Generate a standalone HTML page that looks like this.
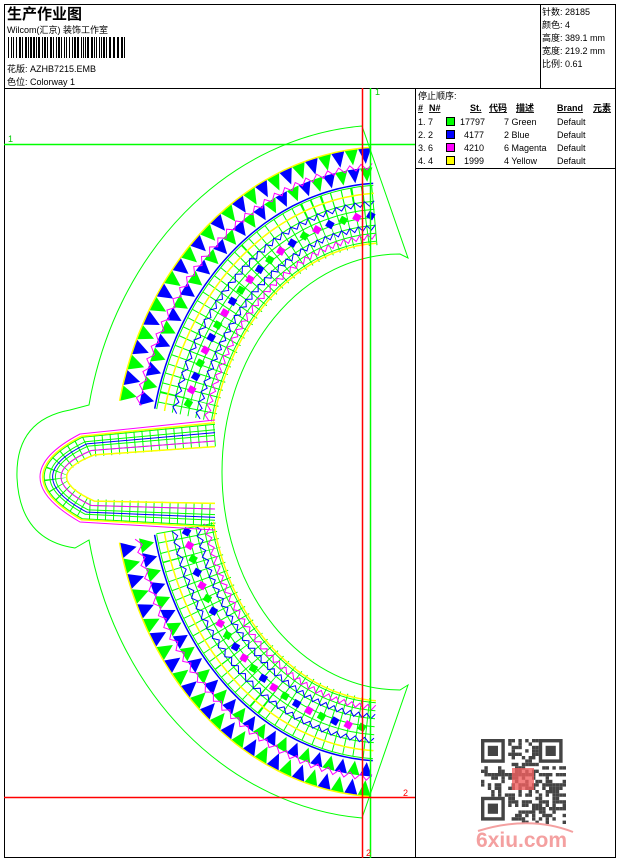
<!DOCTYPE html>
<html><head><meta charset="utf-8">
<style>
body{margin:0;background:#fff;width:620px;height:860px;overflow:hidden;font-family:"Liberation Sans","Noto Sans CJK SC",sans-serif;}
svg{position:absolute;left:0;top:0}
text{font-family:"Liberation Sans","Noto Sans CJK SC",sans-serif;}
</style></head><body>
<svg id="s" width="620" height="860" viewBox="0 0 620 860" xmlns="http://www.w3.org/2000/svg">
<rect x="4.5" y="4.5" width="611" height="853" fill="none" stroke="#000"/>
<line x1="4" y1="88.5" x2="616" y2="88.5" stroke="#000"/>
<line x1="540.5" y1="4" x2="540.5" y2="88" stroke="#000"/>
<line x1="415.5" y1="88" x2="415.5" y2="858" stroke="#000"/>
<line x1="415" y1="168.5" x2="616" y2="168.5" stroke="#000"/>
<text x="7" y="19" font-size="15" font-weight="bold">生产作业图</text>
<text x="7" y="33" font-size="9">Wilcom(汇京) 装饰工作室</text>
<g id="bar"></g>
<text x="7" y="72" font-size="9">花版:  AZHB7215.EMB</text>
<text x="7" y="85" font-size="9">色位:  Colorway 1</text>
<g font-size="9">
<text x="542" y="15">针数: 28185</text>
<text x="542" y="28">颜色: 4</text>
<text x="542" y="41">高度: 389.1 mm</text>
<text x="542" y="54">宽度: 219.2 mm</text>
<text x="542" y="67">比例: 0.61</text>
<text x="418" y="99">停止顺序:</text>
<g font-weight="bold" text-decoration="underline">
<text x="418" y="111">#</text><text x="429" y="111">N#</text><text x="470" y="111">St.</text><text x="489" y="111">代码</text><text x="516" y="111">描述</text><text x="557" y="111">Brand</text><text x="593" y="111">元素</text></g>
<text x="418" y="125">1. 7</text><rect x="446.5" y="117.5" width="8" height="8" fill="#00ff00" stroke="#000"/><text x="460" y="125">17797</text><text x="504" y="125">7 Green</text><text x="557" y="125">Default</text>
<text x="418" y="138">2. 2</text><rect x="446.5" y="130.5" width="8" height="8" fill="#0000ff" stroke="#000"/><text x="464" y="138">4177</text><text x="504" y="138">2 Blue</text><text x="557" y="138">Default</text>
<text x="418" y="151">3. 6</text><rect x="446.5" y="143.5" width="8" height="8" fill="#ff00ff" stroke="#000"/><text x="464" y="151">4210</text><text x="504" y="151">6 Magenta</text><text x="557" y="151">Default</text>
<text x="418" y="164">4. 4</text><rect x="446.5" y="156.5" width="8" height="8" fill="#ffff00" stroke="#000"/><text x="464" y="164">1999</text><text x="504" y="164">4 Yellow</text><text x="557" y="164">Default</text>
</g>
<g id="d"></g>
<path d="M362,126 A302 347 0 0 0 89,405 L70,410 Q15,420 17,478 Q20,540 75,548 L89,540 A302 347 0 0 0 362,818 L408,685 L400,690 A178 218 0 0 1 400,254 L408,258 Z" fill="none" stroke="#00ff00" stroke-width="1"/>
<line x1="4" y1="144.5" x2="415" y2="144.5" stroke="#00ff00" stroke-width="1.5"/>
<line x1="370.5" y1="88" x2="370.5" y2="858" stroke="#00ff00" stroke-width="1.5"/>
<line x1="362.5" y1="88" x2="362.5" y2="858" stroke="#ff0000" stroke-width="1.5"/>
<line x1="4" y1="797.5" x2="415" y2="797.5" stroke="#ff0000" stroke-width="1.5"/>
<text x="8" y="142" font-size="9" fill="#00cc00">1</text>
<text x="375" y="95" font-size="9" fill="#00cc00">1</text>
<text x="403" y="796" font-size="9" fill="#ff0000">2</text>
<text x="366" y="856" font-size="9" fill="#ff0000">2</text>
<g id="qr"></g>
<rect x="512" y="768" width="22" height="22" fill="#f06060" opacity="0.8"/>
<text x="476" y="847" font-size="21" font-weight="bold" fill="#f4a0a0">6xiu.com</text>
<path d="M478,831 Q530,815 573,832" fill="none" stroke="#f4a0a0" stroke-width="2"/>
</svg>
<script>
var NS="http://www.w3.org/2000/svg";
function el(p,n,a){var e=document.createElementNS(NS,n);for(var k in a)e.setAttribute(k,a[k]);p.appendChild(e);return e;}
var bar=document.getElementById('bar');
var seed=7;function rnd(){seed=(seed*9301+49297)%233280;return seed/233280;}
for(var x=8;x<125;){var w=rnd()<0.5?1:2;el(bar,'rect',{x:x,y:37,width:w,height:21,fill:'#000'});x+=w+(rnd()<0.5?1:2);}
var D=document.getElementById('d');
var cx=385,cy=472,RX=272,RY=325;
function pt(d,t){return [cx-(RX-d)*Math.sin(t),cy-(RY-d)*Math.cos(t)];}
function arcD(d,t0,t1,zig){var s='',n=Math.round((t1-t0)/0.022);for(var i=0;i<=n;i++){var t=t0+(t1-t0)*i/n;var dd=d+(zig?(i%2?zig:-zig):0);var p=pt(dd,t);s+=(i?'L':'M')+p[0].toFixed(1)+','+p[1].toFixed(1);}return s;}
var R=[[0.05,1.35],[1.79,3.09]];
function both(f){R.forEach(function(r){f(r[0],r[1]);});}
function line(d,c,w,zig,dash){both(function(a,b){var o={d:arcD(d,a,b,zig),fill:'none',stroke:c,'stroke-width':w||1};if(dash)o['stroke-dasharray']=dash;el(D,'path',o);});}
function brick(d0,d1){for(var d=d0;d<=d1;d+=8)line(d,'#00ff00',1);line((d0+d1)/2,'#00ff00',d1-d0,0,'1 8');}
brick(38,98);
// triangle rows (sawtooth)
both(function(a,b){var n=Math.round((b-a)/0.05);for(var i=0;i<n;i++){var t0=a+(b-a)*i/n,t1=a+(b-a)*(i+1)/n,tm=(t0+t1)/2;
 var c=i%2?'#00ff00':'#0000ff';
 var p1=pt(0,t0),p2=pt(0,t1),p3=pt(16,tm);el(D,'path',{d:'M'+p1+'L'+p2+'L'+p3+'Z',fill:c});
 var q1=pt(20,t0),q2=pt(20,t1),q3=pt(34,tm);el(D,'path',{d:'M'+q1+'L'+q2+'L'+q3+'Z',fill:i%2?'#0000ff':'#00ff00'});}});
line(0,'#ffff00',1.5);
line(19,'#ff00ff',1,3);
line(36,'#0000ff',1.5);
line(46,'#ffff00',1.5);line(96,'#ffff00',1.5);
line(56,'#0000ff',1,2.5);line(80,'#0000ff',1,2.5);line(89,'#ff00ff',1,2.5);
var cols=['#0000ff','#ff00ff','#00ff00'];
both(function(a,b){var p=el(D,'path',{d:arcD(68,a,b),fill:'none'});var L=p.getTotalLength();var k=0;for(var l=4;l<L;l+=14){var q=p.getPointAtLength(l);el(D,'rect',{x:q.x-3.5,y:q.y-3.5,width:7,height:7,fill:cols[k%3],transform:'rotate(30 '+q.x+' '+q.y+')'});k++;}});
function tongue(s,c,w,dash){var A=[215,420+28*s],B=[80+15*s,434+22*s],C=[41*s,476],Dd=[80+15*s,522-22*s],E=[215,530-28*s];var o={d:'M'+A+' L'+B+' Q'+C+' '+Dd+' L'+E,fill:'none',stroke:c,'stroke-width':w||1};if(dash)o['stroke-dasharray']=dash;el(D,'path',o);}
for(var s=0.15;s<=1;s+=0.2)tongue(s,'#00ff00',1);
tongue(0.55,'#00ff00',22,'1 7');
tongue(0,'#ff00ff',1);tongue(0.1,'#ffff00',1.5);tongue(0.45,'#0000ff',1);tongue(0.95,'#ffff00',1.5);tongue(0.75,'#ff00ff',1);
var Q=document.getElementById('qr');seed=3;var cs=3.4,qx=481,qy=739;
for(var i=0;i<25;i++)for(var j=0;j<25;j++){if((i<8&&j<8)||(i<8&&j>16)||(i>16&&j<8))continue;if(rnd()<0.5)el(Q,'rect',{x:qx+j*cs,y:qy+i*cs,width:cs,height:cs,fill:'#444'});}
[[0,0],[0,17],[17,0]].forEach(function(f){var x=qx+f[1]*cs,y=qy+f[0]*cs;el(Q,'rect',{x:x+cs/2,y:y+cs/2,width:6*cs,height:6*cs,fill:'none',stroke:'#444','stroke-width':cs});el(Q,'rect',{x:x+2*cs,y:y+2*cs,width:3*cs,height:3*cs,fill:'#444'});});
</script>
</body></html>
